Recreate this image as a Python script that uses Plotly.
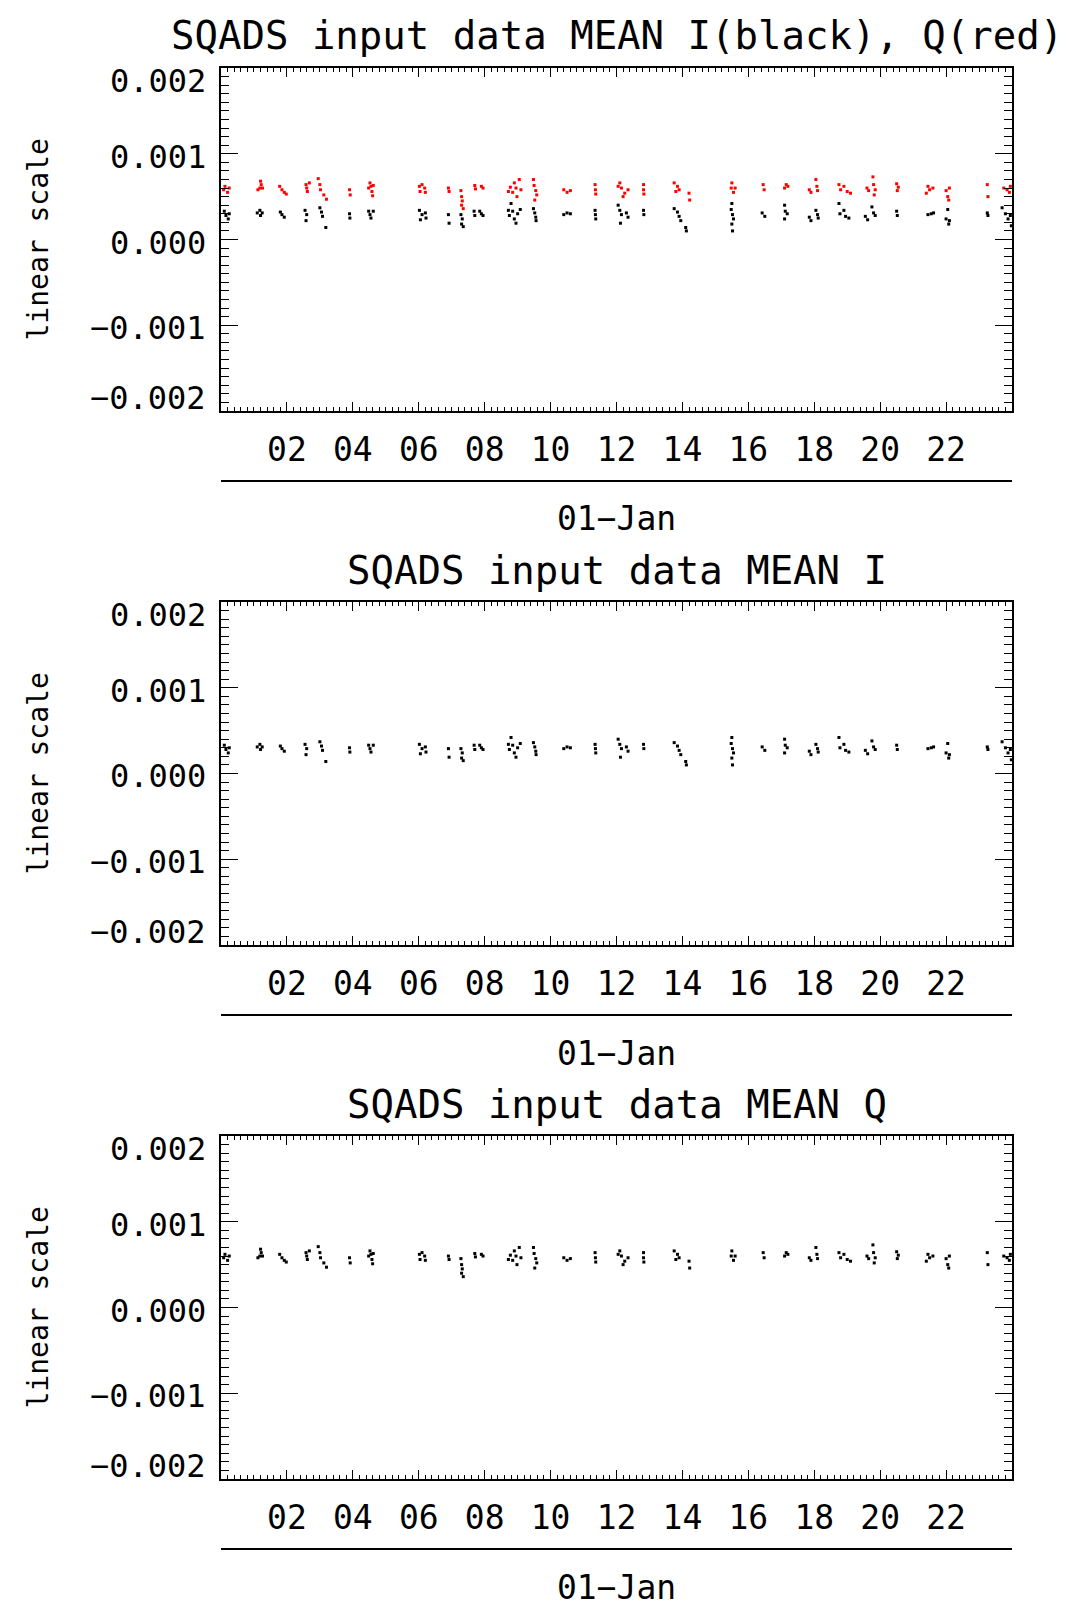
import pandas as pd
import plotly.graph_objects as go

W, H = 1067, 1606

# hours after 00:00 on 01-Jan
i_hours = [0.10, 0.15, 0.22, 0.25, 1.10, 1.18, 1.20, 1.25, 1.80, 1.85, 1.92,
           2.55, 2.60, 2.58, 3.00, 3.05, 3.08, 3.18, 3.90, 3.91,
           4.48, 4.52, 4.55, 4.62, 6.02, 6.05, 6.10, 6.20, 6.22, 6.90, 6.92,
           7.28, 7.32, 7.30, 7.35, 7.68, 7.70, 7.85, 7.90, 7.95,
           8.80, 8.72, 8.75, 8.85, 8.90, 9.00, 9.08, 8.95,
           9.48, 9.52, 9.55, 9.56, 10.40, 10.50, 10.60, 11.35, 11.36, 11.37,
           12.05, 12.10, 12.15, 12.30, 12.35, 12.12, 12.82, 12.83,
           13.75, 13.85, 13.90, 13.95, 14.10, 14.12,
           15.50, 15.48, 15.52, 15.55, 15.50, 15.52, 16.42, 16.50,
           17.10, 17.12, 17.18, 17.10, 17.85, 17.90, 18.05, 18.10, 18.12,
           18.75, 18.78, 18.90, 18.95, 19.05, 19.55, 19.62, 19.75, 19.80, 19.85,
           20.50, 20.52, 21.45, 21.55, 21.62, 22.05, 22.00, 22.10, 22.08,
           23.25, 23.27, 23.70, 23.80, 23.88, 23.95, 23.98]
i_mean = [0.00033, 0.00028, 0.00024, 0.00030, 0.00031, 0.00034, 0.00028, 0.00031, 0.00032, 0.00029, 0.00026,
          0.00034, 0.00029, 0.00022, 0.00037, 0.00032, 0.00027, 0.00014, 0.00030, 0.00025,
          0.00033, 0.00029, 0.00025, 0.00033, 0.00034, 0.00023, 0.00029, 0.00031, 0.00025, 0.00029, 0.00019,
          0.00029, 0.00024, 0.00018, 0.00015, 0.00033, 0.00028, 0.00033, 0.00030, 0.00028,
          0.00042, 0.00034, 0.00028, 0.00033, 0.00024, 0.00030, 0.00035, 0.00019,
          0.00036, 0.00031, 0.00026, 0.00022, 0.00029, 0.00031, 0.00030, 0.00034, 0.00029, 0.00024,
          0.00040, 0.00034, 0.00029, 0.00031, 0.00026, 0.00019, 0.00034, 0.00029,
          0.00036, 0.00032, 0.00027, 0.00022, 0.00014, 0.00010,
          0.00042, 0.00035, 0.00029, 0.00024, 0.00018, 0.00010, 0.00031, 0.00027,
          0.00040, 0.00033, 0.00030, 0.00024, 0.00026, 0.00022, 0.00034, 0.00029, 0.00025,
          0.00042, 0.00030, 0.00034, 0.00027, 0.00025, 0.00027, 0.00023, 0.00038, 0.00031, 0.00028,
          0.00033, 0.00028, 0.00029, 0.00030, 0.00031, 0.00035, 0.00024, 0.00022, 0.00018,
          0.00031, 0.00028, 0.00037, 0.00030, 0.00024, 0.00028, 0.00016]

q_hours = [0.08, 0.12, 0.20, 0.25, 1.12, 1.18, 1.20, 1.22, 1.26, 1.78, 1.85, 1.92, 1.98,
           2.58, 2.60, 2.62, 2.68, 2.95, 3.00, 3.02, 3.12, 3.20, 3.90, 3.92,
           4.48, 4.52, 4.55, 4.58, 4.60, 4.62, 6.02, 6.04, 6.10, 6.18, 6.20, 6.90, 6.92,
           7.28, 7.30, 7.32, 7.30, 7.35, 7.70, 7.72, 7.90, 7.95,
           8.72, 8.78, 8.85, 8.90, 8.95, 9.05, 9.10, 8.98,
           9.48, 9.50, 9.55, 9.58, 9.52, 10.40, 10.50, 10.60, 11.35, 11.36, 11.37,
           12.05, 12.10, 12.15, 12.25, 12.35, 12.20, 12.82, 12.82, 12.83,
           13.75, 13.85, 13.90, 13.80, 14.20, 14.22, 15.50, 15.48, 15.60, 15.55,
           16.45, 16.48, 17.10, 17.15, 17.20, 17.85, 17.90, 18.05, 18.08, 18.10,
           18.75, 18.80, 18.90, 19.00, 19.10, 19.60, 19.65, 19.78, 19.80, 19.85, 19.82,
           20.50, 20.55, 20.52, 21.45, 21.50, 21.60, 21.40, 22.00, 22.10, 22.05, 22.08,
           23.25, 23.27, 23.75, 23.85, 23.92, 23.95]
q_mean = [0.00058, 0.00062, 0.00055, 0.00060, 0.00058, 0.00060, 0.00068, 0.00064, 0.00060, 0.00062, 0.00058, 0.00055, 0.00053,
          0.00064, 0.00060, 0.00056, 0.00066, 0.00071, 0.00064, 0.00058, 0.00052, 0.00047, 0.00058, 0.00052,
          0.00060, 0.00066, 0.00062, 0.00056, 0.00051, 0.00063, 0.00062, 0.00056, 0.00064, 0.00060, 0.00055, 0.00060, 0.00056,
          0.00057, 0.00050, 0.00045, 0.00040, 0.00036, 0.00063, 0.00059, 0.00062, 0.00060,
          0.00056, 0.00061, 0.00055, 0.00066, 0.00060, 0.00070, 0.00058, 0.00050,
          0.00070, 0.00063, 0.00057, 0.00052, 0.00046, 0.00058, 0.00055, 0.00057, 0.00064, 0.00058, 0.00053,
          0.00062, 0.00066, 0.00060, 0.00054, 0.00058, 0.00050, 0.00064, 0.00058, 0.00053,
          0.00066, 0.00062, 0.00058, 0.00056, 0.00054, 0.00046, 0.00066, 0.00060, 0.00060, 0.00055,
          0.00064, 0.00058, 0.00060, 0.00064, 0.00062, 0.00058, 0.00055, 0.00070, 0.00062, 0.00057,
          0.00064, 0.00058, 0.00062, 0.00056, 0.00054, 0.00060, 0.00057, 0.00073, 0.00064, 0.00058, 0.00052,
          0.00065, 0.00061, 0.00057, 0.00062, 0.00058, 0.00060, 0.00054, 0.00057, 0.00060, 0.00050, 0.00046,
          0.00064, 0.00050, 0.00060, 0.00058, 0.00055, 0.00062]

y_ticks = [0.002, 0.001, 0.0, -0.001, -0.002]
y_ticktext = ["0.002", "0.001", "0.000", "\u22120.001", "\u22120.002"]
x_ticks = list(range(2, 24, 2))
titles = ["SQADS input data MEAN I(black), Q(red)",
          "SQADS input data MEAN I",
          "SQADS input data MEAN Q"]

day0 = pd.Timestamp("2000-01-01")


def to_time(h):
    return day0 + pd.to_timedelta(h, unit="h")


# page pixel -> paper coords (the page body adds an 8px margin)
def px(p):
    return (p - 8) / W


def py(p):
    return 1 - (p - 8) / H


FONT = "DejaVu Sans Mono"
left, right = 221, 1012
tops = [68, 602, 1136]
ph = 343

fig = go.Figure()

# panel traces: (panel, x, y, colour)
series = [(1, i_hours, i_mean, "black"), (1, q_hours, q_mean, "red"),
          (2, i_hours, i_mean, "black"), (3, q_hours, q_mean, "black")]
for k, hx, vy, col in series:
    fig.add_trace(go.Scatter(
        x=to_time(pd.Series(hx)), y=vy, mode="markers",
        marker=dict(symbol="square", size=3, color=col, line_width=0),
        xaxis="x" if k == 1 else f"x{k}", yaxis="y" if k == 1 else f"y{k}",
        showlegend=False, hoverinfo="skip"))

annotations = []
shapes = []
for k, top in enumerate(tops, start=1):
    bot = top + ph
    sfx = "" if k == 1 else str(k)
    fig.layout[f"xaxis{sfx}"] = dict(
        domain=[px(left), px(right)], anchor=f"y{sfx}", type="date",
        range=[to_time(0), to_time(24)],
        tickvals=[to_time(h) for h in x_ticks],
        ticktext=[f"{h:02d}" for h in x_ticks],
        ticks="inside", ticklen=9, tickwidth=1, tickcolor="black",
        minor=dict(dtick=12 * 60 * 1000, ticks="inside", ticklen=4, tickcolor="black"),
        mirror="allticks", showline=True, linewidth=2, linecolor="black",
        showgrid=False, zeroline=False, ticklabelstandoff=8,
        tickfont=dict(family=FONT, size=33, color="black"))
    fig.layout[f"yaxis{sfx}"] = dict(
        domain=[py(bot), py(top)], anchor=f"x{sfx}",
        range=[-0.002, 0.002], tickvals=y_ticks,
        ticks="inside", ticklen=17, tickwidth=1, tickcolor="black",
        minor=dict(dtick=0.0001, ticks="inside", ticklen=8, tickcolor="black"),
        mirror="allticks", showline=True, linewidth=2, linecolor="black",
        showgrid=False, zeroline=False, showticklabels=False)

    # y tick labels, end labels pulled inside like IDL does
    for v, t in zip(y_ticks, y_ticktext):
        shift = -13 if v == y_ticks[0] else (13 if v == y_ticks[-1] else -3)
        annotations.append(dict(
            text=t, x=px(208), xref="paper", xanchor="right",
            y=v, yref=f"y{sfx}", yanchor="middle", yshift=shift, showarrow=False,
            font=dict(family=FONT, size=32, color="black")))

    annotations.append(dict(
        text=titles[k - 1], x=px((left + right) / 2), xref="paper", xanchor="center",
        y=py(top - 32), yref="paper", yanchor="middle", showarrow=False,
        font=dict(family=FONT, size=39, color="black")))
    annotations.append(dict(
        text="linear scale", x=px(38), xref="paper", xanchor="center",
        y=py(top + ph / 2), yref="paper", yanchor="middle", textangle=-90,
        showarrow=False, font=dict(family=FONT, size=28, color="black")))
    annotations.append(dict(
        text="01\u2212Jan", x=px((left + right) / 2), xref="paper", xanchor="center",
        y=py(bot + 108), yref="paper", yanchor="middle", showarrow=False,
        font=dict(family=FONT, size=33, color="black")))
    shapes.append(dict(
        type="line", xref="paper", yref="paper",
        x0=px(left), x1=px(right), y0=py(bot + 70), y1=py(bot + 70),
        line=dict(color="black", width=2)))

fig.update_layout(
    width=W, height=H, margin=dict(l=0, r=0, t=0, b=0),
    paper_bgcolor="white", plot_bgcolor="white",
    annotations=annotations, shapes=shapes)

fig.write_html("out.html")
